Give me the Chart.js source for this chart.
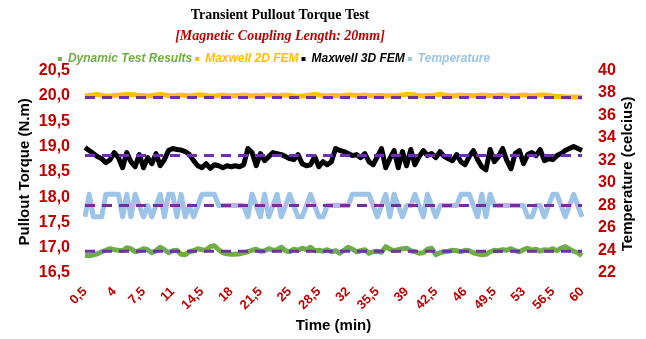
<!DOCTYPE html>
<html>
<head>
<meta charset="utf-8">
<script src="https://cdn.jsdelivr.net/npm/chart.js@4.4.1/dist/chart.umd.min.js"></script>
<style>
  html, body { margin: 0; padding: 0; background: #fff; }
  #wrap { width: 646px; height: 339px; }
</style>
</head>
<body>
<div id="wrap"><canvas id="chart"></canvas></div>
<script>
// time axis, one sample every 30 s
const timeMin = [
  0.5, 1, 1.5, 2, 2.5, 3, 3.5, 4, 4.5, 5,
  5.5, 6, 6.5, 7, 7.5, 8, 8.5, 9, 9.5, 10,
  10.5, 11, 11.5, 12, 12.5, 13, 13.5, 14, 14.5, 15,
  15.5, 16, 16.5, 17, 17.5, 18, 18.5, 19, 19.5, 20,
  20.5, 21, 21.5, 22, 22.5, 23, 23.5, 24, 24.5, 25,
  25.5, 26, 26.5, 27, 27.5, 28, 28.5, 29, 29.5, 30,
  30.5, 31, 31.5, 32, 32.5, 33, 33.5, 34, 34.5, 35,
  35.5, 36, 36.5, 37, 37.5, 38, 38.5, 39, 39.5, 40,
  40.5, 41, 41.5, 42, 42.5, 43, 43.5, 44, 44.5, 45,
  45.5, 46, 46.5, 47, 47.5, 48, 48.5, 49, 49.5, 50,
  50.5, 51, 51.5, 52, 52.5, 53, 53.5, 54, 54.5, 55,
  55.5, 56, 56.5, 57, 57.5, 58, 58.5, 59, 59.5, 60
];
const tickLabels = ['0,5', '4', '7,5', '11', '14,5', '18', '21,5', '25', '28,5',
  '32', '35,5', '39', '42,5', '46', '49,5', '53', '56,5', '60'];

const dynamicTest = [
  16.85, 16.84, 16.86, 16.88, 16.92, 16.95, 16.98, 16.96, 16.95, 16.94,
  17.00, 16.98, 16.92, 16.94, 16.98, 16.96, 16.90, 16.94, 17.01, 16.96,
  16.90, 16.94, 16.95, 16.87, 16.86, 16.92, 16.94, 16.98, 16.96, 16.95,
  17.02, 17.04, 16.96, 16.90, 16.88, 16.87, 16.87, 16.88, 16.90, 16.92,
  16.95, 16.97, 16.93, 16.94, 16.98, 16.95, 16.96, 17.01, 16.94, 16.92,
  16.97, 16.95, 16.99, 16.96, 17.01, 16.94, 16.95, 16.93, 16.96, 16.92,
  16.94, 16.89, 16.95, 17.01, 16.97, 16.92, 16.94, 16.96, 16.89, 16.92,
  16.93, 16.91, 17.02, 16.97, 16.94, 16.96, 16.98, 16.99, 16.94, 16.92,
  16.89, 16.90, 16.97, 16.99, 16.86, 16.90, 16.92, 16.93, 16.95, 16.94,
  16.92, 16.95, 16.94, 16.90, 16.88, 16.86, 16.87, 16.92, 16.95, 16.94,
  16.96, 16.95, 16.98, 16.94, 16.92, 16.96, 16.99, 16.95, 16.97, 16.93,
  16.96, 16.95, 16.98, 16.94, 16.99, 17.02, 16.97, 16.93, 16.90, 16.84
];
const maxwell2D = [
  20.00, 20.01, 20.02, 20.03, 20.01, 20.00, 20.00, 20.01, 20.02, 20.02,
  20.03, 20.03, 20.02, 20.01, 20.01, 20.00, 20.01, 20.02, 20.03, 20.02,
  20.01, 20.00, 20.01, 20.02, 20.01, 20.00, 20.01, 20.02, 20.02, 20.01,
  20.00, 20.00, 20.01, 20.02, 20.01, 20.00, 20.01, 20.01, 20.02, 20.01,
  20.00, 20.01, 20.00, 20.01, 20.02, 20.01, 20.00, 20.01, 20.02, 20.01,
  20.00, 19.99, 20.00, 20.01, 20.02, 20.03, 20.02, 20.01, 20.00, 20.01,
  20.01, 20.00, 20.01, 20.02, 20.02, 20.01, 20.01, 20.02, 20.01, 20.00,
  20.01, 20.01, 20.00, 20.01, 20.00, 20.01, 20.02, 20.03, 20.03, 20.02,
  20.01, 20.00, 20.01, 20.01, 20.02, 20.03, 20.02, 20.01, 20.00, 20.01,
  20.02, 20.01, 20.01, 20.00, 20.01, 20.02, 20.01, 20.01, 20.00, 20.01,
  20.02, 20.01, 20.00, 20.00, 20.01, 20.02, 20.01, 20.00, 20.01, 20.02,
  20.02, 20.01, 20.00, 19.99, 19.99, 19.98, 19.98, 19.98, 19.98, 19.97
];
const maxwell3D = [
  18.98, 18.92, 18.86, 18.80, 18.76, 18.68, 18.74, 18.88, 18.78, 18.58,
  18.88, 18.70, 18.60, 18.84, 18.58, 18.78, 18.66, 18.86, 18.62, 18.74,
  18.92, 18.96, 18.94, 18.93, 18.90, 18.84, 18.72, 18.62, 18.58, 18.66,
  18.57, 18.64, 18.62, 18.58, 18.62, 18.60, 18.62, 18.60, 18.64, 18.96,
  18.88, 18.62, 18.86, 18.72, 18.80, 18.88, 18.86, 18.84, 18.80, 18.76,
  18.74, 18.84, 18.66, 18.62, 18.64, 18.80, 18.60, 18.70, 18.64, 18.70,
  18.96, 18.92, 18.90, 18.86, 18.82, 18.84, 18.78, 18.86, 18.70, 18.64,
  18.80, 18.96, 18.58, 18.76, 18.92, 18.58, 18.90, 18.62, 18.94, 18.64,
  18.80, 18.92, 18.82, 18.86, 18.78, 18.90, 18.80, 18.76, 18.72, 18.84,
  18.70, 18.64, 18.80, 18.92, 18.74, 18.60, 18.54, 18.94, 18.70, 18.80,
  18.96, 18.72, 18.56, 18.86, 18.92, 18.66, 18.84, 18.88, 18.82, 18.94,
  18.72, 18.76, 18.74, 18.82, 18.86, 18.92, 18.96, 19.00, 18.96, 18.92
];
const temperature = [
  27, 29, 27, 27, 27, 29, 29, 29, 29, 27,
  29, 27, 29, 28, 27, 28, 27, 28, 29, 27,
  29, 29, 27, 29, 27, 28, 27, 28, 29, 29,
  29, 29, 28, 28, 28, 28, 28, 28, 28, 27,
  29, 28, 27, 29, 27, 28, 29, 27, 28, 29,
  28, 27, 27, 28, 29, 28, 27, 27, 28, 28,
  28, 28, 28, 28, 29, 29, 29, 29, 29, 28,
  27, 28, 29, 27, 29, 28, 27, 28, 28, 29,
  28, 27, 29, 28, 27, 28, 28, 28, 28, 28,
  29, 29, 29, 28, 27, 29, 27, 29, 28, 28,
  28, 28, 28, 28, 28, 28, 27, 27, 28, 28,
  27, 28, 29, 29, 28, 27, 28, 29, 28, 27
];

// levels of the dashed purple average lines
const avgDynamic = 16.93;
const avg2D = 19.97;
const avg3D = 18.82;
const avgTemp = 28;

const seriesNames = ['Dynamic Test Results', 'Maxwell 2D FEM', 'Maxwell 3D FEM', 'Temperature'];
const seriesColors = ['#70AD47', '#FFC000', '#000000', '#9DC3E6'];
const avgColor = '#7030A0';
const red = '#C00000';

const titleText = 'Transient Pullout Torque Test';
const subtitleText = '[Magnetic Coupling Length: 20mm]';
const rightTitle = 'Temperature (celcius)';

function comma(v) {
    return String(v).replace('.', ',');
}

function series(i, data, axis) {
    return {
        label: seriesNames[i],
        data: data,
        yAxisID: axis,
        borderColor: seriesColors[i],
        backgroundColor: seriesColors[i],
        borderWidth: 5,
        borderJoinStyle: 'round',
        pointRadius: 0,
        tension: 0,
        order: 1
    };
}

function avgLine(value, axis) {
    return {
        label: 'avg',
        data: timeMin.map(() => value),
        yAxisID: axis,
        borderColor: avgColor,
        borderWidth: 3,
        borderDash: [10, 7],
        pointRadius: 0,
        order: 0
    };
}

// title block and legend sit left of centre in the original
const blockShift = {
    id: 'blockShift',
    afterLayout(chart) {
        chart.boxes.forEach(box => {
            let dx = 0, dy = 0;
            if (box === chart.legend) { dx = -49; dy = 4.4; }
            else if (box.options && box.options.text === titleText) { dx = -43; dy = 1.6; }
            else if (box.options && box.options.text === subtitleText) { dx = -43; dy = 2.8; }
            else return;
            box.left += dx; box.right += dx;
            box.top += dy; box.bottom += dy;
        });
    },
    // right axis title reads bottom to top, which the scale title can't do
    afterDraw(chart) {
        const ctx = chart.ctx;
        const area = chart.chartArea;
        ctx.save();
        ctx.translate(628, (area.top + area.bottom) / 2 + 2);
        ctx.rotate(-Math.PI / 2);
        ctx.textAlign = 'center';
        ctx.textBaseline = 'middle';
        ctx.font = "bold 15px 'Liberation Sans', Arial, sans-serif";
        ctx.fillStyle = '#000';
        ctx.fillText(rightTitle, 0, 0);
        ctx.restore();
    }
};

Chart.defaults.font.family = "'Liberation Sans', Arial, sans-serif";

new Chart(document.getElementById('chart').getContext('2d'), {
    type: 'line',
    data: {
        labels: timeMin,
        datasets: [
            avgLine(avg2D, 'y'),
            avgLine(avg3D, 'y'),
            avgLine(avgTemp, 'y2'),
            avgLine(avgDynamic, 'y'),
            series(0, dynamicTest, 'y'),
            series(1, maxwell2D, 'y'),
            series(2, maxwell3D, 'y'),
            series(3, temperature, 'y2')
        ]
    },
    options: {
        responsive: true,
        maintainAspectRatio: false,
        animation: false,
        layout: { padding: { left: 0, right: 0, top: 0, bottom: 4 } },
        plugins: {
            title: {
                display: true,
                text: titleText,
                color: '#000',
                font: { family: "'Liberation Serif', 'Times New Roman', serif", size: 14, weight: 'bold' },
                padding: { top: 5, bottom: 0 }
            },
            subtitle: {
                display: true,
                text: subtitleText,
                color: red,
                font: { family: "'Liberation Serif', 'Times New Roman', serif", size: 14, weight: 'bold', style: 'italic' },
                padding: { top: 3, bottom: 4 }
            },
            legend: {
                display: true,
                labels: {
                    boxWidth: 4,
                    boxHeight: 4,
                    padding: 3,
                    font: { size: 12, weight: 'bold', style: 'italic' },
                    generateLabels: () => seriesNames.map((name, i) => ({
                        text: name,
                        fillStyle: seriesColors[i],
                        strokeStyle: seriesColors[i],
                        lineWidth: 0,
                        fontColor: seriesColors[i],
                        hidden: false,
                        datasetIndex: 4 + i
                    }))
                }
            },
            tooltip: { enabled: false }
        },
        scales: {
            x: {
                type: 'category',
                grid: { display: false, drawTicks: false },
                border: { display: false },
                ticks: {
                    autoSkip: false,
                    minRotation: 45,
                    maxRotation: 45,
                    padding: 11,
                    color: red,
                    font: { size: 13, weight: 'bold' },
                    callback: function(value, index) {
                        const label = comma(timeMin[index]);
                        return tickLabels.includes(label) ? label : null;
                    }
                },
                title: {
                    display: true,
                    text: 'Time (min)',
                    color: '#000',
                    font: { size: 15, weight: 'bold' },
                    padding: { top: 0, bottom: 0 }
                },
                afterFit: function(scale) { scale.height = 62; }
            },
            y: {
                position: 'left',
                min: 16.5,
                max: 20.5,
                grid: { display: false, drawTicks: false },
                border: { display: false },
                ticks: {
                    stepSize: 0.5,
                    padding: 15,
                    color: red,
                    font: { size: 16, weight: 'bold' },
                    callback: v => v.toFixed(1).replace('.', ',')
                },
                title: {
                    display: true,
                    text: 'Pullout Torque (N.m)',
                    color: '#000',
                    font: { size: 15, weight: 'bold' },
                    padding: { top: 16, bottom: 0 }
                },
                afterFit: function(scale) { scale.width = 85; }
            },
            y2: {
                position: 'right',
                min: 22,
                max: 40,
                grid: { display: false, drawTicks: false },
                border: { display: false },
                ticks: {
                    stepSize: 2,
                    padding: 16,
                    color: red,
                    font: { size: 16, weight: 'bold' }
                },
                title: { display: false },
                afterFit: function(scale) { scale.width = 64; }
            }
        }
    },
    plugins: [blockShift]
});
</script>
</body>
</html>
